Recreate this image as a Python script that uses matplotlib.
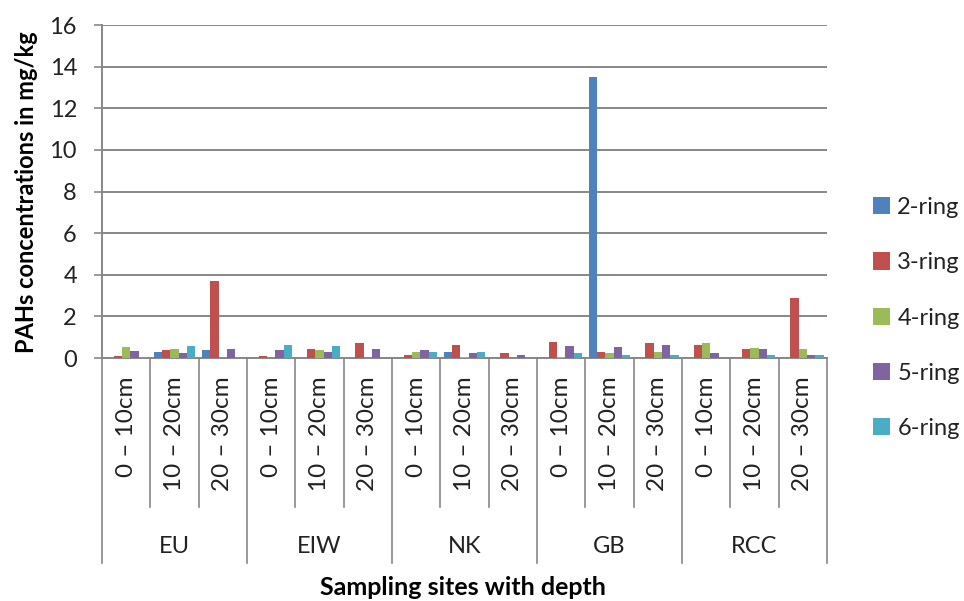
import matplotlib.pyplot as plt
import numpy as np

plt.rcParams['font.family'] = ['Lato', 'DejaVu Sans']

sites = ['EU', 'EIW', 'NK', 'GB', 'RCC']
depths = ['0 \u2013 10cm', '10 \u2013 20cm', '20 \u2013 30cm']
series = ['2-ring', '3-ring', '4-ring', '5-ring', '6-ring']
colors = ['#4F81BD', '#C0504D', '#9BBB59', '#8064A2', '#4BACC6']

# values per category (site x depth), in order EU 0-10, EU 10-20, ... RCC 20-30
ring2 = [0.0, 0.29, 0.37, 0.0, 0.0, 0.0, 0.0, 0.29, 0.0, 0.0, 13.5, 0.0, 0.0, 0.0, 0.0]
ring3 = [0.08, 0.37, 3.7, 0.08, 0.43, 0.70, 0.14, 0.64, 0.22, 0.78, 0.29, 0.70, 0.64, 0.43, 2.87]
ring4 = [0.52, 0.43, 0.0, 0.0, 0.37, 0.0, 0.29, 0.07, 0.0, 0.07, 0.22, 0.29, 0.70, 0.49, 0.43]
ring5 = [0.36, 0.22, 0.43, 0.37, 0.29, 0.43, 0.37, 0.22, 0.14, 0.58, 0.51, 0.64, 0.22, 0.43, 0.14]
ring6 = [0.07, 0.56, 0.0, 0.64, 0.56, 0.0, 0.29, 0.29, 0.0, 0.24, 0.14, 0.14, 0.0, 0.14, 0.14]
values = [ring2, ring3, ring4, ring5, ring6]

fs = 17
fig = plt.figure(figsize=(9.64, 6.01), dpi=100)
ax = fig.add_axes([0.1058, 0.4043, 0.7521, 0.5541])

n = len(sites) * len(depths)
x = np.arange(n)
bw = 0.172
for k, (name, vals, c) in enumerate(zip(series, values, colors)):
    ax.bar(x + (k - 2) * bw, vals, bw, color=c, label=name, zorder=3)

grid_c = '#878787'
ax.set_xlim(-0.5, n - 0.5)
ax.set_ylim(0, 16)
ax.set_yticks(np.arange(0, 17, 2))
ax.yaxis.grid(True, color=grid_c, linewidth=1.4, zorder=0)
ax.tick_params(axis='y', labelsize=fs, length=6, color=grid_c, width=1.2, pad=12,
               labelcolor='#222222')
ax.set_xticks([])
for s in ['top', 'right']:
    ax.spines[s].set_visible(False)
for s in ['left', 'bottom']:
    ax.spines[s].set_color(grid_c)
    ax.spines[s].set_linewidth(1.4)

trans = ax.get_xaxis_transform()
# category separators
for b in np.arange(n + 1) - 0.5:
    low = -0.616 if (b + 0.5) % 3 == 0 else -0.447
    ax.plot([b, b], [0, low], color=grid_c, lw=1.2, transform=trans, clip_on=False)
# depth labels
for i in range(n):
    ax.text(x[i], -0.055, depths[i % 3], rotation=90, ha='center', va='top',
            fontsize=fs + 0.5, color='#222222', transform=trans)
# site labels
for j, s in enumerate(sites):
    ax.text(3 * j + 1, -0.565, s, ha='center', va='center', fontsize=fs,
            color='#222222', transform=trans)

fig.text(0.027, 0.68, 'PAHs concentrations in mg/kg', rotation=90, ha='center',
         va='center', fontsize=fs, fontweight='bold')
fig.text(0.48, 0.022, 'Sampling sites with depth', ha='center', va='center',
         fontsize=fs + 1, fontweight='bold')

leg = ax.legend(loc='center left', bbox_to_anchor=(1.04, 0.12), frameon=False,
                fontsize=fs, handlelength=0.75, handleheight=0.75, labelspacing=1.45,
                handletextpad=0.3, borderaxespad=0.3)
for t in leg.get_texts():
    t.set_color('#222222')

fig.savefig('out.png', dpi=100)
